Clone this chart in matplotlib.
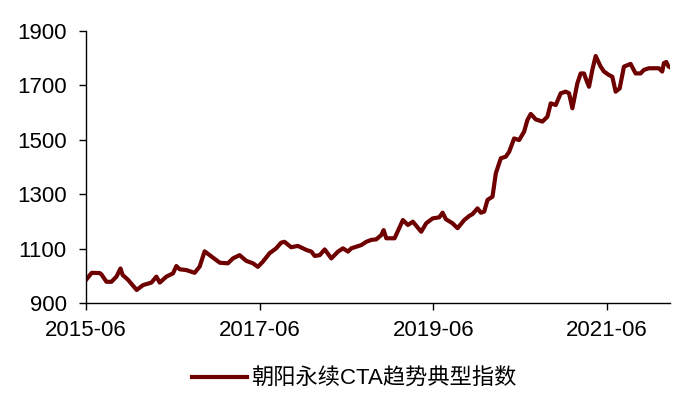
import matplotlib
matplotlib.use("Agg")
import matplotlib.pyplot as plt
import matplotlib.dates as mdates
import pandas as pd

# index values
dates = [
    "2015-06-01", "2015-06-25", "2015-07-29", "2015-08-05", "2015-08-26", "2015-09-16",
    "2015-10-07", "2015-10-24", "2015-11-02", "2015-11-25", "2015-12-31", "2016-01-27",
    "2016-03-02", "2016-03-23", "2016-04-06", "2016-05-04", "2016-06-01", "2016-06-15",
    "2016-06-29", "2016-07-27", "2016-08-31", "2016-09-21", "2016-10-12", "2016-11-02",
    "2016-12-15", "2017-01-18", "2017-02-08", "2017-03-08", "2017-04-05", "2017-05-03",
    "2017-05-24", "2017-06-14", "2017-07-12", "2017-08-09", "2017-08-30", "2017-09-13",
    "2017-10-11", "2017-11-08", "2017-12-14", "2018-01-04", "2018-01-18", "2018-02-08",
    "2018-03-01", "2018-03-29", "2018-04-26", "2018-05-17", "2018-06-07", "2018-06-21",
    "2018-07-12", "2018-08-02", "2018-08-23", "2018-09-13", "2018-10-04", "2018-10-25",
    "2018-11-04", "2018-11-15", "2018-12-20", "2019-01-24", "2019-02-14", "2019-03-07",
    "2019-04-11", "2019-05-02", "2019-05-29", "2019-06-26", "2019-07-10", "2019-07-24",
    "2019-08-21", "2019-09-11", "2019-10-09", "2019-10-30", "2019-11-13", "2019-12-04",
    "2019-12-18", "2020-01-01", "2020-01-15", "2020-02-05", "2020-02-19", "2020-03-11",
    "2020-04-01", "2020-04-15", "2020-05-06", "2020-05-27", "2020-06-17", "2020-07-01",
    "2020-07-15", "2020-08-05", "2020-09-02", "2020-09-23", "2020-10-07", "2020-10-28",
    "2020-11-18", "2020-12-09", "2020-12-23", "2021-01-06", "2021-01-27", "2021-02-10",
    "2021-02-24", "2021-03-03", "2021-03-17", "2021-03-31", "2021-04-14", "2021-05-05",
    "2021-05-19", "2021-06-09", "2021-06-23", "2021-07-07", "2021-07-24", "2021-08-11",
    "2021-09-08", "2021-09-29", "2021-10-20", "2021-11-03", "2021-11-24", "2022-01-05",
    "2022-01-19", "2022-01-26", "2022-02-05", "2022-02-14", "2022-02-24",
]
values = [
    985, 1011, 1010, 1005, 978, 978,
    997, 1027, 1003, 985, 948, 966,
    975, 997, 975, 997, 1009, 1036,
    1024, 1021, 1011, 1034, 1090, 1076,
    1048, 1046, 1064, 1076, 1055, 1046,
    1033, 1052, 1083, 1101, 1122, 1125,
    1105, 1110, 1095, 1089, 1073, 1076,
    1097, 1064, 1089, 1101, 1089, 1101,
    1107, 1113, 1125, 1132, 1134, 1150,
    1168, 1138, 1138, 1205, 1187, 1199,
    1162, 1193, 1211, 1215, 1232, 1208,
    1193, 1175, 1205, 1220, 1227, 1248,
    1232, 1236, 1279, 1291, 1377, 1432,
    1438, 1456, 1505, 1499, 1530, 1573,
    1595, 1575, 1567, 1585, 1634, 1628,
    1671, 1677, 1671, 1616, 1708, 1744,
    1744, 1726, 1695, 1757, 1808, 1769,
    1751, 1738, 1732, 1677, 1689, 1769,
    1779, 1744, 1744, 1757, 1763, 1763,
    1751, 1782, 1786, 1770, 1765,
]
series_name = "朝阳永续CTA趋势典型指数"
x_ticks = ["2015-06-01", "2017-06-01", "2019-06-01", "2021-06-01"]
y_ticks = [900, 1100, 1300, 1500, 1700, 1900]

plt.rcParams['font.family'] = ['Liberation Sans', 'Noto Sans CJK SC']

fig = plt.figure(figsize=(7, 4.16), dpi=100)
ax = fig.add_axes([0.1229, 0.2716, 0.834, 0.6539])

ax.plot(pd.to_datetime(dates), values, color='#6e0000', lw=3.0, label=series_name)

ax.set_ylim(900, 1900)
ax.set_yticks(y_ticks)
ax.set_xlim(pd.Timestamp("2015-06-01"), pd.Timestamp("2022-02-20"))
ax.set_xticks(pd.to_datetime(x_ticks))
ax.xaxis.set_major_formatter(mdates.DateFormatter('%Y-%m'))

for s in ['top', 'right']:
    ax.spines[s].set_visible(False)
for s in ['left', 'bottom']:
    ax.spines[s].set_linewidth(1.0)
ax.tick_params(axis='y', direction='out', length=5, width=1, labelsize=16, pad=9)
ax.tick_params(axis='x', direction='out', length=5, width=1, labelsize=16, pad=7)

fig.legend(loc='center', bbox_to_anchor=(0.506, 0.089), frameon=False,
           fontsize=16, handlelength=2.5, handletextpad=0.2)

fig.savefig('out.png', dpi=100)
